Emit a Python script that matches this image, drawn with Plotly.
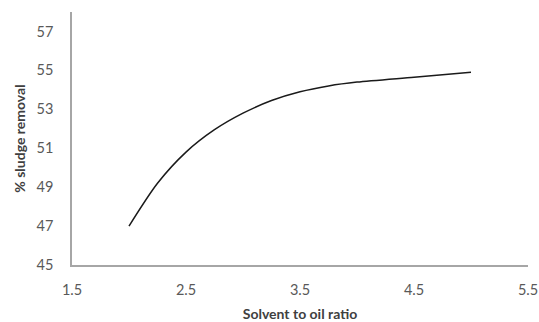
import plotly.graph_objects as go

ratio = [2.0, 2.25, 2.5, 2.75, 3.0, 3.25, 3.5, 3.75, 4.0, 4.5, 5.0]
removal = [47.0, 49.2, 50.8, 51.95, 52.8, 53.45, 53.9, 54.2, 54.4, 54.65, 54.9]

x_ticks = [1.5, 2.5, 3.5, 4.5, 5.5]
y_ticks = [45, 47, 49, 51, 53, 55, 57]

fig = go.Figure()
fig.add_trace(go.Scatter(x=ratio, y=removal, mode="lines",
                         line=dict(color="#1a1a1a", width=1.5, shape="spline", smoothing=0.8),
                         showlegend=False, hoverinfo="skip"))

tick_font = dict(family="Lato, Open Sans, sans-serif", size=14.5, color="#595959")
fig.update_layout(
    width=539, height=322,
    margin=dict(l=72, r=11, t=12, b=57),
    paper_bgcolor="white", plot_bgcolor="white",
    xaxis=dict(range=[1.5, 5.5], tickvals=x_ticks, ticktext=[str(v) for v in x_ticks],
               showgrid=False, zeroline=False, showline=True, linecolor="#a6a6a6", linewidth=1.5,
               ticks="", tickfont=tick_font, ticklabelstandoff=11, automargin=False,
               title=dict(text="<b>Solvent to oil ratio</b>", font=dict(family="Lato, Open Sans, sans-serif", size=14, color="#404040"), standoff=14)),
    yaxis=dict(range=[45, 58], tickvals=y_ticks, ticktext=[str(v) for v in y_ticks],
               showgrid=False, zeroline=False, showline=True, linecolor="#a6a6a6", linewidth=1.5,
               ticks="", tickfont=tick_font, ticklabelstandoff=14, automargin=False,
               title=dict(text="<b>% sludge removal</b>", font=dict(family="Lato, Open Sans, sans-serif", size=14, color="#404040"), standoff=8)),
)

fig.write_html("out.html", config={"displayModeBar": False},
               post_script="document.body.style.margin='0';")
